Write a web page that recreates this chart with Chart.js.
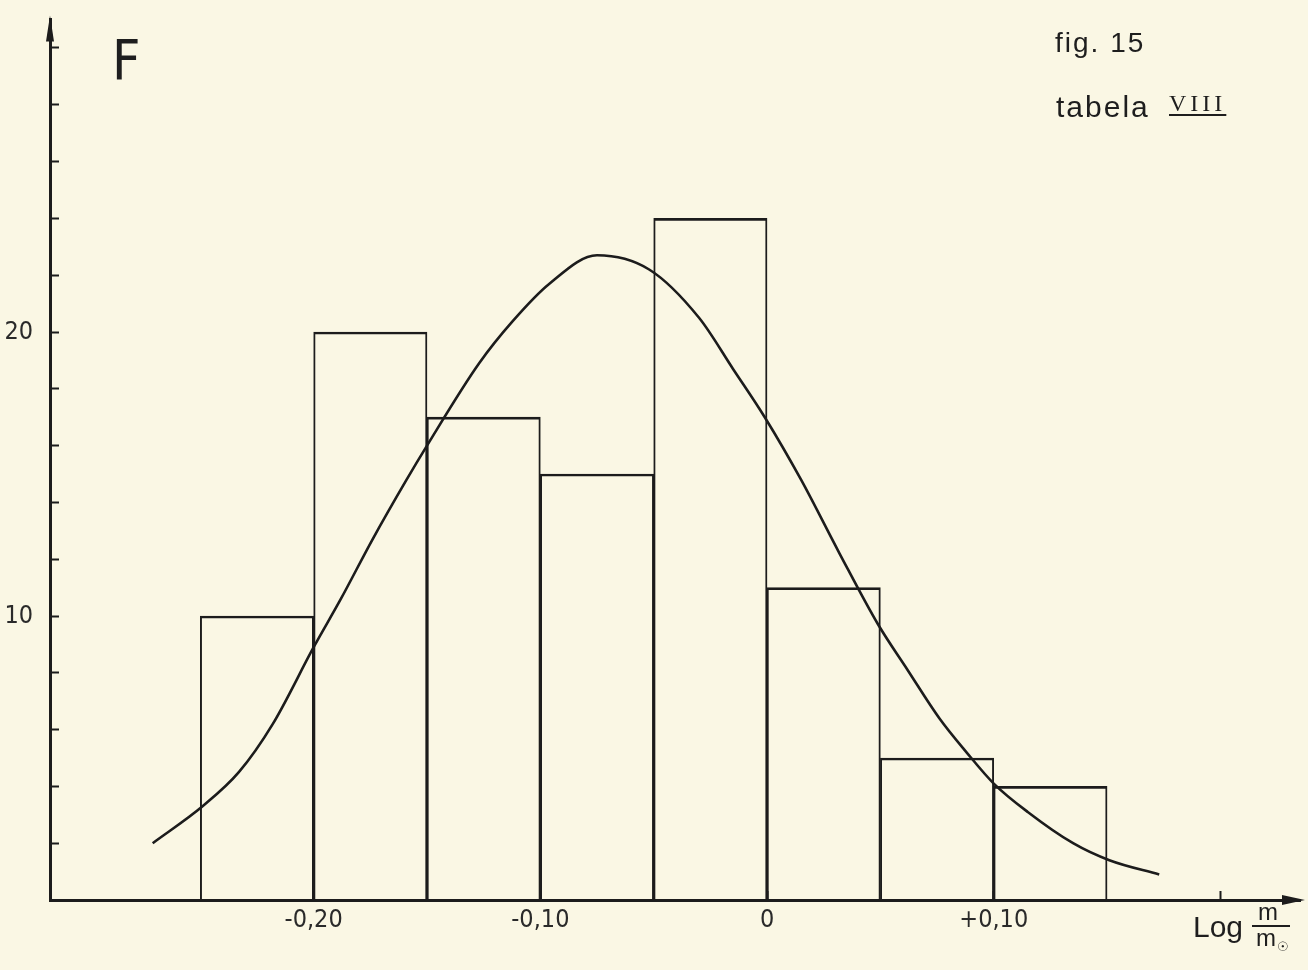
<!DOCTYPE html>
<html>
<head>
<meta charset="utf-8">
<title>fig. 15 - tabela VIII</title>
<script src="https://cdn.jsdelivr.net/npm/chart.js@4.4.1/dist/chart.umd.min.js"></script>
<style>
  html, body { margin: 0; padding: 0; }
  body { width: 1308px; height: 970px; background: #faf7e4; position: relative; overflow: hidden; }
  #wrap { position: absolute; left: 0; top: 0; width: 1308px; height: 970px; }
  .note { position: absolute; line-height: 1; white-space: nowrap; color: #1e1e1e;
          font-family: "Liberation Sans", "Noto Sans", sans-serif; }
  #big-f { left: 112px; top: 33px; font-size: 55px; font-family: "Liberation Sans Narrow", "DejaVu Sans Condensed", sans-serif; }
  #fig { left: 1055px; top: 29px; font-size: 28px; letter-spacing: 2px; }
  #tab { left: 1056px; top: 92px; font-size: 30px; letter-spacing: 2px; }
  #roman { left: 1169px; top: 91px; font-size: 24px; letter-spacing: 4px;
           font-family: "Liberation Serif", "DejaVu Serif", serif;
           text-decoration: underline; text-decoration-thickness: 2px; text-underline-offset: 3px; }
  #log { left: 1193px; top: 912px; font-size: 30px; }
  #num { left: 1258px; top: 900px; font-size: 24px; }
  #bar { position: absolute; left: 1252px; top: 925px; width: 38px; height: 2px; background: #1e1e1e; }
  #den { left: 1256px; top: 926px; font-size: 24px; }
  #den sub { font-size: 13px; vertical-align: -5px; margin-left: 1px; font-family: "DejaVu Sans", sans-serif; }
</style>
</head>
<body>
<div id="wrap"><canvas id="histo" width="1308" height="970"></canvas></div>
<div class="note" id="big-f">F</div>
<div class="note" id="fig">fig. 15</div>
<div class="note" id="tab">tabela</div>
<div class="note" id="roman">VIII</div>
<div class="note" id="log">Log</div>
<div class="note" id="num">m</div>
<div id="bar"></div>
<div class="note" id="den">m<sub>☉</sub></div>
<script>
// histogram bins (log m/m0, width 0.05) and their counts F
const binCentres = [-0.225, -0.175, -0.125, -0.075, -0.025, 0.025, 0.075, 0.125];
const binCounts = [10, 20, 17, 15, 24, 11, 5, 4];

// hand drawn normal curve
const curveX = [-0.271, -0.249, -0.233, -0.218, -0.200, -0.188, -0.174, -0.159, -0.150, -0.127,
                -0.112, -0.096, -0.075, -0.052, -0.030, -0.015, -0.001, 0.015, 0.032, 0.049,
                0.062, 0.076, 0.088, 0.100, 0.115, 0.135, 0.151, 0.173];
const curveY = [2.0, 3.3, 4.5, 6.2, 8.9, 10.6, 12.7, 14.8, 16.0, 18.9,
                20.4, 21.7, 22.7, 22.2, 20.5, 18.7, 17.0, 14.8, 12.2, 9.7,
                8.1, 6.4, 5.2, 4.1, 3.1, 2.0, 1.4, 0.9];

// axis ticks
const xTickValues = [-0.20, -0.10, 0, 0.10, 0.20];
const xTickLabels = ['-0,20', '-0,10', '0', '+0,10', ''];
const yTickValues = [2, 4, 6, 8, 10, 12, 14, 16, 18, 20, 22, 24, 26, 28, 30];
const yLabelled = [10, 20];

const ink = '#1c1c1c';
const tickFont = { family: '"Liberation Sans Narrow", "DejaVu Sans Condensed", sans-serif', size: 25 };

// arrow heads on the ends of both axes
const axisArrows = {
    id: 'axisArrows',
    afterDraw(chart) {
        const { left, top, right, bottom } = chart.chartArea;
        const ctx = chart.ctx;
        ctx.save();
        ctx.fillStyle = ink;
        ctx.beginPath();
        ctx.moveTo(left, top - 4);
        ctx.lineTo(left - 4, top + 22);
        ctx.lineTo(left + 4, top + 22);
        ctx.closePath();
        ctx.fill();
        ctx.beginPath();
        ctx.moveTo(right + 5, bottom);
        ctx.lineTo(right - 18, bottom - 5);
        ctx.lineTo(right - 18, bottom + 5);
        ctx.closePath();
        ctx.fill();
        ctx.restore();
    }
};

// keep the plot area fixed, whatever the tick labels measure
function fixX(s) {
    s.height = 70;
    s.paddingLeft = 0;
    s.paddingRight = 0;
}
function fixY(s) {
    s.width = 50;
    s.paddingTop = 0;
    s.paddingBottom = 0;
}

new Chart(document.getElementById('histo'), {
    type: 'bar',
    data: {
        datasets: [
            {
                type: 'line',
                label: 'curve',
                data: curveX.map((x, i) => ({ x: x, y: curveY[i] })),
                borderColor: ink,
                borderWidth: 2.6,
                pointRadius: 0,
                cubicInterpolationMode: 'monotone',
                fill: false,
                order: 0
            },
            {
                label: 'F',
                data: binCentres.map((x, i) => ({ x: x, y: binCounts[i] })),
                backgroundColor: 'rgba(0,0,0,0)',
                borderColor: ink,
                borderWidth: { top: 2, left: 1.3, right: 1.3, bottom: 0 },
                borderSkipped: false,
                barPercentage: 1,
                categoryPercentage: 1,
                order: 1
            }
        ]
    },
    options: {
        responsive: false,
        animation: false,
        layout: { padding: { top: 19.6, right: 8, left: 0, bottom: 0 } },
        plugins: {
            legend: { display: false },
            tooltip: { enabled: false }
        },
        scales: {
            x: {
                type: 'linear',
                min: -0.3163,
                max: 0.2351,
                offset: false,
                afterFit: fixX,
                afterBuildTicks: s => { s.ticks = xTickValues.map(v => ({ value: v })); },
                grid: { offset: false, drawOnChartArea: false, drawTicks: true, tickLength: -9, tickWidth: 2, tickColor: ink },
                border: { display: true, color: ink, width: 3 },
                ticks: {
                    autoSkip: false,
                    maxRotation: 0,
                    padding: 14,
                    color: '#2a2a2a',
                    font: tickFont,
                    callback: (v, i) => xTickLabels[i]
                }
            },
            y: {
                min: 0,
                max: 31,
                afterFit: fixY,
                afterBuildTicks: s => { s.ticks = yTickValues.map(v => ({ value: v })); },
                grid: { drawOnChartArea: false, drawTicks: true, tickLength: -9, tickWidth: 2, tickColor: ink },
                border: { display: true, color: ink, width: 3 },
                ticks: {
                    autoSkip: false,
                    padding: 26,
                    color: '#2a2a2a',
                    font: tickFont,
                    callback: v => (yLabelled.includes(v) ? String(v) : '')
                }
            }
        }
    },
    plugins: [axisArrows]
});
</script>
</body>
</html>
